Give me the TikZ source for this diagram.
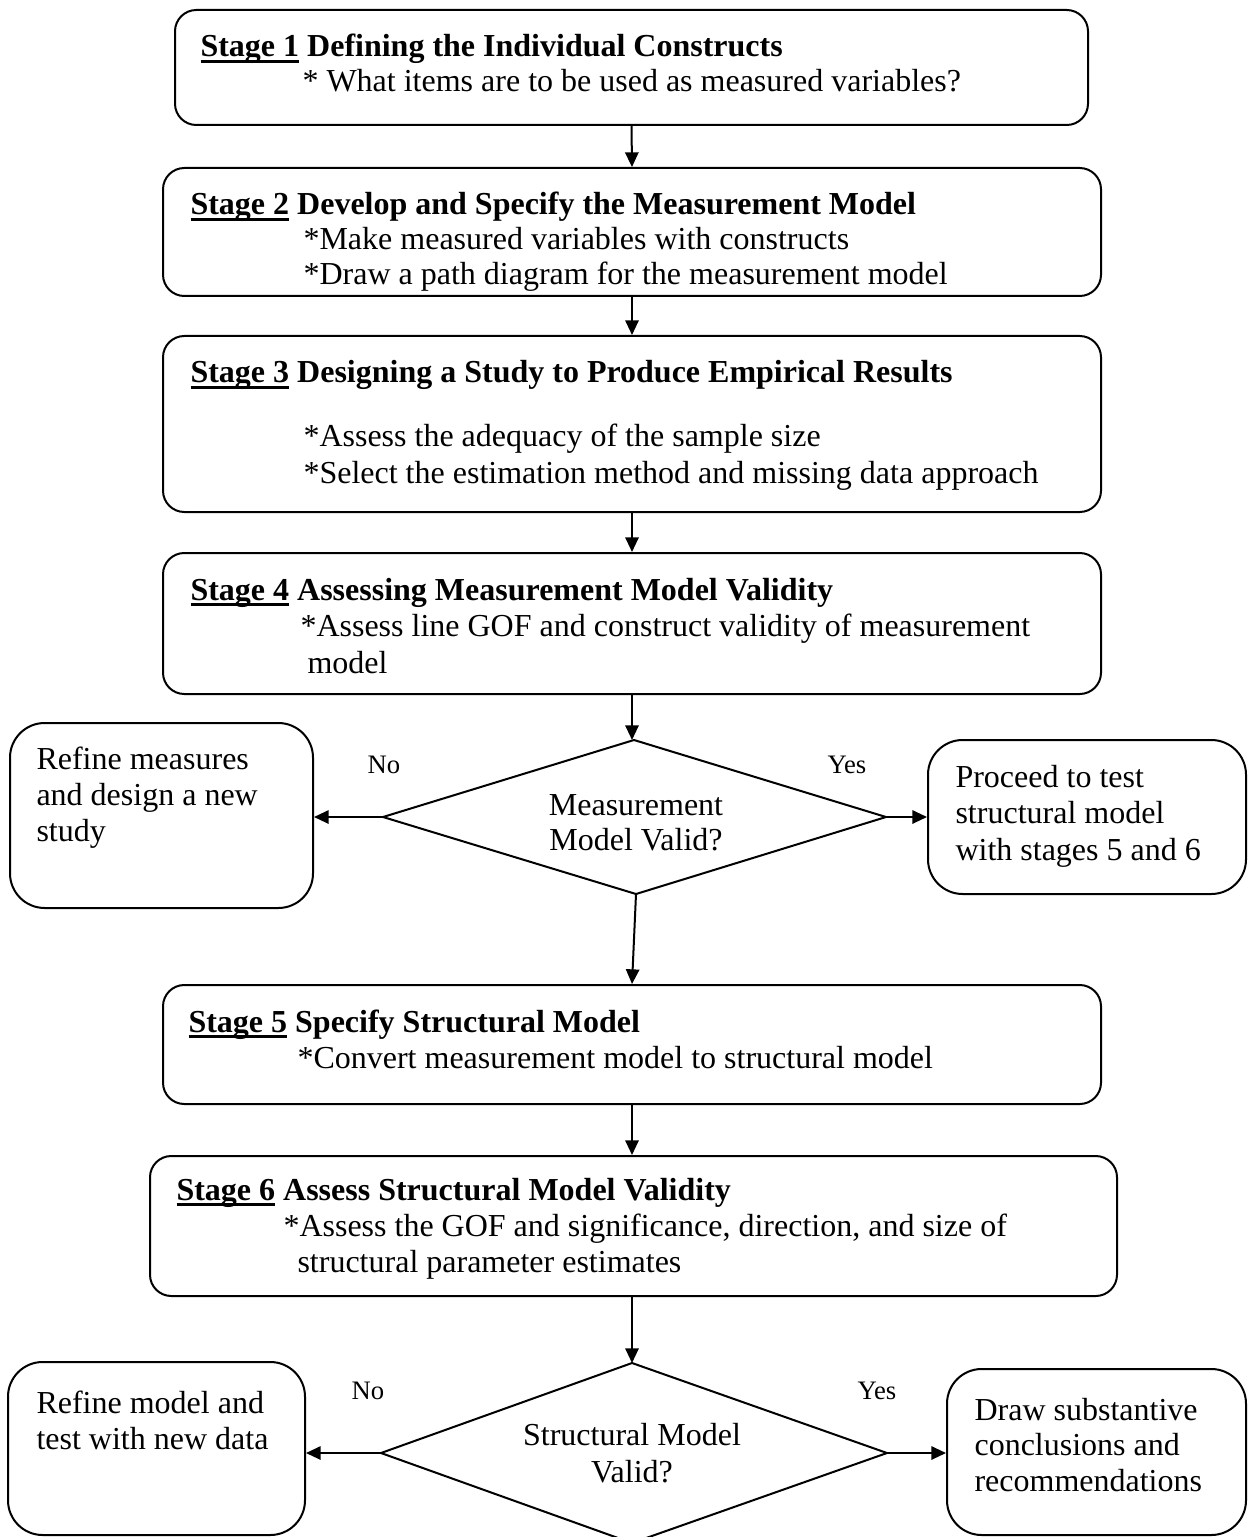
\documentclass[tikz,border=0pt]{standalone}
\usepackage{fontspec}
\setmainfont{Liberation Serif}
\usetikzlibrary{arrows.meta,fit}
\newcommand{\stg}[1]{\setbox0\hbox{#1}\rlap{\rule[-2.3pt]{\wd0}{1.2pt}}\box0\relax}
\tikzset{
  stagebox/.style={draw, line width=0.75pt, rounded corners=8pt, inner sep=0pt},
  sidebox/.style={draw, line width=0.75pt, rounded corners=13pt, inner sep=0pt},
  txt/.style={anchor=base west, inner sep=0pt, font=\fontsize{12}{14}\selectfont},
  ctxt/.style={anchor=base, inner sep=0pt, font=\fontsize{12}{14}\selectfont},
  lbl/.style={anchor=base west, inner sep=0pt, font=\fontsize{10}{12}\selectfont},
  arr/.style={line width=0.75pt, -{Triangle[length=5.5pt,width=5pt]}},
  dline/.style={line width=0.75pt, line join=miter}
}
\begin{document}
\begin{tikzpicture}[x=0.375pt, y=-0.375pt]
\useasboundingbox (0,0) rectangle (1254,1537);
\clip (0,0) rectangle (1254,1537);
% stage boxes
\node[stagebox, fit={(175,10)(1088,125)}] (s1) {};
\node[stagebox, fit={(163,168)(1101,296)}] (s2) {};
\node[stagebox, fit={(163,336)(1101,512)}] (s3) {};
\node[stagebox, fit={(163,553)(1101,694)}] (s4) {};
\node[stagebox, fit={(163,985)(1101,1104)}] (s5) {};
\node[stagebox, fit={(150,1156)(1117,1296)}] (s6) {};
% side boxes
\node[sidebox, fit={(10,723)(313,908)}] (l1) {};
\node[sidebox, fit={(928,740)(1246,894)}] (r1) {};
\node[sidebox, fit={(8,1362)(305,1535)}] (l2) {};
\node[sidebox, fit={(947,1369)(1246,1535)}] (r2) {};
% diamonds
\coordinate (d1t) at (634,740);
\coordinate (d1l) at (383,817);
\coordinate (d1r) at (886,817);
\coordinate (d1b) at (636,894);
\draw[dline] (d1t) -- (d1r) -- (d1b) -- (d1l) -- cycle;
\coordinate (d2t) at (632,1363);
\coordinate (d2l) at (381,1453);
\coordinate (d2r) at (887,1453);
\coordinate (d2b) at (632,1543);
\draw[dline] (d2t) -- (d2r) -- (d2b) -- (d2l) -- cycle;
% texts stage 1
\node[txt] (t1a) at (200,57) {\textbf{\stg{Stage 1} Defining the Individual Constructs}};
\node[txt] (t1b) at (302,92) {* What items are to be used as measured variables?};
% stage 2
\node[txt] (t2a) at (190,215) {\textbf{\stg{Stage 2} Develop and Specify the Measurement Model}};
\node[txt] (t2b) at (303,250) {*Make measured variables with constructs};
\node[txt] (t2c) at (303,285) {*Draw a path diagram for the measurement model};
% stage 3
\node[txt] (t3a) at (190,383) {\textbf{\stg{Stage 3} Designing a Study to Produce Empirical Results}};
\node[txt] (t3b) at (303,446) {*Assess the adequacy of the sample size};
\node[txt] (t3c) at (303,483) {*Select the estimation method and missing data approach};
% stage 4
\node[txt] (t4a) at (190,600) {\textbf{\stg{Stage 4} Assessing Measurement Model Validity}};
\node[txt] (t4b) at (300,636) {*Assess line GOF and construct validity of measurement};
\node[txt] (t4c) at (307,673) {model};
% decision 1
\node[ctxt] (d1a) at (636,815) {Measurement};
\node[ctxt] (d1c) at (636,850) {Model Valid?};
\node[lbl] (no1) at (367,773) {No};
\node[lbl] (yes1) at (827,773) {Yes};
\node[txt] (l1a) at (36,769) {Refine measures};
\node[txt] (l1b) at (36,805) {and design a new};
\node[txt] (l1c) at (36,841) {study};
\node[txt] (r1a) at (955,787) {Proceed to test};
\node[txt] (r1b) at (955,823) {structural model};
\node[txt] (r1c) at (955,860) {with stages 5 and 6};
% stage 5
\node[txt] (t5a) at (188,1032) {\textbf{\stg{Stage 5} Specify Structural Model}};
\node[txt] (t5b) at (297,1068) {*Convert measurement model to structural model};
% stage 6
\node[txt] (t6a) at (176,1200) {\textbf{\stg{Stage 6} Assess Structural Model Validity}};
\node[txt] (t6b) at (283,1236) {*Assess the GOF and significance, direction, and size of};
\node[txt] (t6c) at (297,1272) {structural parameter estimates};
% decision 2
\node[ctxt] (d2a) at (632,1445) {Structural Model};
\node[ctxt] (d2c) at (632,1482) {Valid?};
\node[lbl] (no2) at (351,1399) {No};
\node[lbl] (yes2) at (857,1399) {Yes};
\node[txt] (l2a) at (36,1413) {Refine model and};
\node[txt] (l2b) at (36,1449) {test with new data};
\node[txt] (r2a) at (974,1420) {Draw substantive};
\node[txt] (r2b) at (974,1455) {conclusions and};
\node[txt] (r2c) at (974,1491) {recommendations};
% arrows
\draw[arr] (s1.south) -- (s2.north);
\draw[arr] (s2.south) -- (s3.north);
\draw[arr] (s3.south) -- (s4.north);
\draw[arr] (s4.south) -- (s4.south |- d1t);
\draw[arr] (d1l) -- (d1l -| l1.east);
\draw[arr] (d1r) -- (d1r -| r1.west);
\draw[arr] (d1b) -- (s5.north);
\draw[arr] (s5.south) -- (s5.south |- s6.north);
\draw[arr] (s5.south |- s6.south) -- (d2t);
\draw[arr] (d2l) -- (d2l -| l2.east);
\draw[arr] (d2r) -- (d2r -| r2.west);
\end{tikzpicture}
\end{document}
